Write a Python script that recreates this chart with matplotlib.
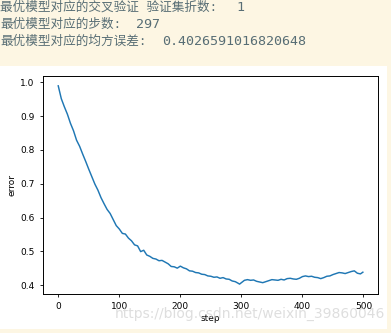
import matplotlib
matplotlib.use("Agg")
import matplotlib.pyplot as plt
from matplotlib.patches import Rectangle

# notebook printout above the plot
fold_label = "最优模型对应的交叉验证 验证集折数:"
best_fold = 1
step_label = "最优模型对应的步数:"
best_step = 297
mse_label = "最优模型对应的均方误差:"
best_mse = 0.4026591016820648

# error curve (every 5 steps)
steps = [0, 5, 10, 15, 20, 25, 30, 35, 40, 45,
         50, 55, 60, 65, 70, 75, 80, 85, 90, 95,
         100, 105, 110, 115, 120, 125, 130, 135, 140, 145,
         150, 155, 160, 165, 170, 175, 180, 185, 190, 195,
         200, 205, 210, 215, 220, 225, 230, 235, 240, 245,
         250, 255, 260, 265, 270, 275, 280, 285, 290, 295,
         297, 300, 305, 310, 315, 320, 325, 330, 335, 340,
         345, 350, 355, 360, 365, 370, 375, 380, 385, 390,
         395, 400, 405, 410, 415, 420, 425, 430, 435, 440,
         445, 450, 455, 460, 465, 470, 475, 480, 485, 490,
         495, 499]
errors = [0.990, 0.952, 0.928, 0.906, 0.879, 0.857, 0.829, 0.811, 0.788, 0.766,
          0.743, 0.721, 0.699, 0.681, 0.659, 0.641, 0.624, 0.612, 0.594, 0.576,
          0.566, 0.553, 0.551, 0.539, 0.531, 0.519, 0.516, 0.499, 0.503, 0.489,
          0.485, 0.479, 0.477, 0.472, 0.473, 0.468, 0.463, 0.455, 0.454, 0.450,
          0.456, 0.451, 0.448, 0.442, 0.441, 0.437, 0.436, 0.432, 0.431, 0.427,
          0.426, 0.423, 0.424, 0.420, 0.422, 0.418, 0.417, 0.412, 0.410, 0.405,
          0.4027, 0.407, 0.414, 0.416, 0.414, 0.415, 0.411, 0.409, 0.407, 0.410,
          0.413, 0.416, 0.415, 0.414, 0.417, 0.415, 0.419, 0.420, 0.418, 0.417,
          0.420, 0.425, 0.427, 0.425, 0.426, 0.423, 0.422, 0.419, 0.422, 0.426,
          0.427, 0.431, 0.434, 0.437, 0.436, 0.434, 0.437, 0.440, 0.442, 0.435,
          0.433, 0.438]

xticks = [0, 100, 200, 300, 400, 500]
yticks = [0.4, 0.5, 0.6, 0.7, 0.8, 0.9, 1.0]

W, H = 391, 333
fig = plt.figure(figsize=(W / 100, H / 100), dpi=100)
fig.patch.set_facecolor("#fdf6e3")
# white output cell behind the figure
fig.patches.append(Rectangle((0, 0.012), 0.99, 0.79, transform=fig.transFigure,
                             facecolor="white", edgecolor="none", zorder=-5))

txt_font = ["DejaVu Sans Mono", "Noto Sans CJK SC"]
txt_color = "#586e75"
# (label, value, y of line in px, x of value in px)
lines = [(fold_label, best_fold, 7.3, 236),
         (step_label, best_step, 24.3, 136),
         (mse_label, best_mse, 41.3, 162)]
for label, value, ypx, xpx in lines:
    fig.text(0.0, 1 - ypx / H, label, family=txt_font, fontsize=9.1,
             color=txt_color, va="center")
    fig.text(xpx / W, 1 - ypx / H, str(value), family="DejaVu Sans Mono",
             fontsize=9.6, color=txt_color, va="center")

ax = fig.add_axes([0.110, 0.117, 0.857, 0.655])
ax.plot(steps, errors, color="#1f77b4", linewidth=1.05)
ax.set_xticks(xticks)
ax.set_yticks(yticks)
ax.tick_params(labelsize=6.5, length=2.5, width=0.6)
for s in ax.spines.values():
    s.set_linewidth(0.7)
ax.set_xlabel("step", fontsize=6.5, labelpad=2)
ax.set_ylabel("error", fontsize=6.5, labelpad=3)

# blog watermark
fig.text(0.985, 0.057, "https://blog.csdn.net/weixin_39860046", fontsize=10,
         color="#d0d0d0", alpha=0.7, ha="right", va="center")

fig.savefig("out.png", dpi=100, facecolor=fig.get_facecolor())
